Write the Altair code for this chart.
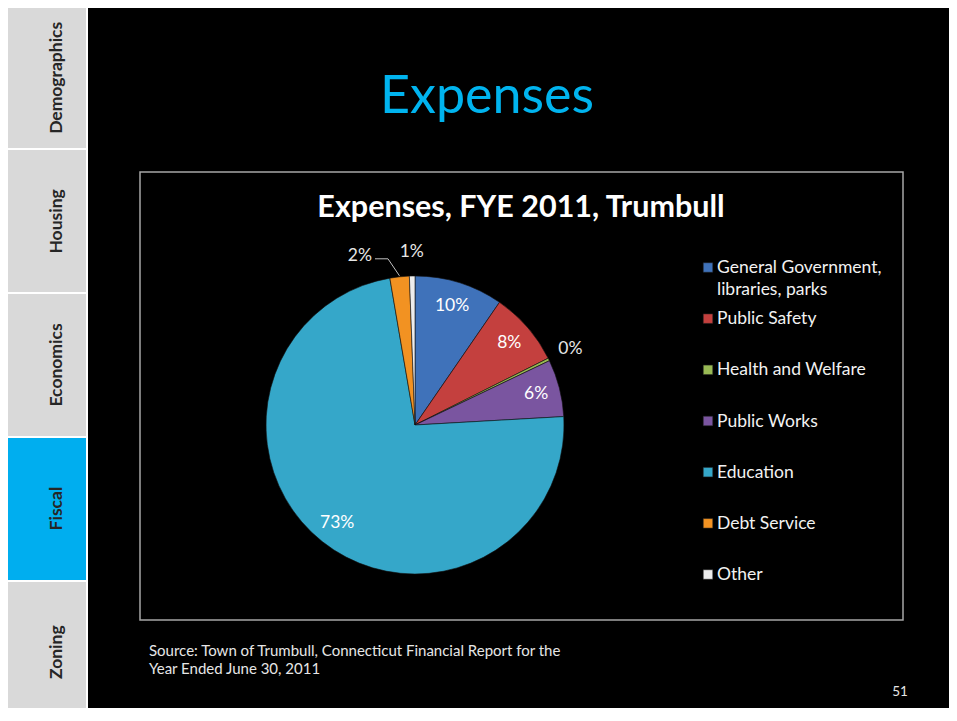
import altair as alt
import pandas as pd

# ---------------- data ----------------
categories = [
    "General Government, libraries, parks",
    "Public Safety",
    "Health and Welfare",
    "Public Works",
    "Education",
    "Debt Service",
    "Other",
]
values = [9.6, 8.0, 0.3, 6.2, 73.2, 2.1, 0.6]
slice_colors = ["#3F72BA", "#C4403E", "#98B954", "#7A55A0", "#35A7C9", "#F29222", "#EDEDED"]
leader_categories = ["Debt Service"]

tabs = ["Demographics", "Housing", "Economics", "Fiscal", "Zoning"]
active_tab = "Fiscal"

slide_title = "Expenses"
chart_title = "Expenses, FYE 2011, Trumbull"
source_text = "Source:  Town of Trumbull, Connecticut Financial Report for the\nYear Ended June 30, 2011"
page_number = "51"

# ---------------- layout constants ----------------
W, H = 941, 700
CX, CY, R = 407, 417, 149
R_IN, R_OUT = 125, 173
FONT = "Lato"

df = pd.DataFrame({"category": categories, "value": values, "idx": list(range(len(categories)))})
df_tabs = pd.DataFrame({"tab": tabs})
one = pd.DataFrame({"k": [0]})

# ---------------- sidebar ----------------
side_bg = alt.Chart(one).mark_rect(color="white").encode(
    x=alt.value(0), x2=alt.value(80), y=alt.value(0), y2=alt.value(H)
)
tab_scale = alt.Scale(domain=tabs, range=[-2, 716], paddingInner=0.014, paddingOuter=0)
tab_rects = alt.Chart(df_tabs).mark_rect(clip=True).encode(
    x=alt.value(0), x2=alt.value(78),
    y=alt.Y("tab:N", scale=tab_scale, axis=None),
    color=alt.condition(alt.datum.tab == active_tab, alt.value("#00AEEF"), alt.value("#D9D9D9")),
)
tab_text = alt.Chart(df_tabs).mark_text(
    angle=270, font=FONT, fontWeight="bold", fontSize=17.5, color="#262626", baseline="middle", align="center"
).encode(
    x=alt.value(49),
    y=alt.Y("tab:N", scale=tab_scale, axis=None),
    text="tab:N",
)

# ---------------- titles / box / texts ----------------
title = alt.Chart(one).mark_text(font=FONT, fontSize=52, color="#00B4EF", align="center", baseline="alphabetic").encode(
    x=alt.value(479), y=alt.value(105), text=alt.value(slide_title)
)
box = alt.Chart(one).mark_rect(fill="black", stroke="#A6A6A6", strokeWidth=1.5).encode(
    x=alt.value(132), x2=alt.value(895), y=alt.value(164), y2=alt.value(612)
)
ctitle = alt.Chart(one).mark_text(font=FONT, fontWeight="bold", fontSize=30.5, color="white", align="center", baseline="alphabetic").encode(
    x=alt.value(513), y=alt.value(209), text=alt.value(chart_title)
)
source = alt.Chart(one).mark_text(font=FONT, fontSize=15, color="#E6E6E6", align="left", baseline="alphabetic",
                                  lineBreak="\n", lineHeight=18).encode(
    x=alt.value(141), y=alt.value(648), text=alt.value(source_text)
)
pnum = alt.Chart(one).mark_text(font=FONT, fontSize=13.5, color="#E6E6E6", align="center", baseline="alphabetic").encode(
    x=alt.value(892), y=alt.value(688), text=alt.value(page_number)
)

# ---------------- pie ----------------
color_scale = alt.Scale(domain=categories, range=slice_colors)
arc = alt.Chart(df).mark_arc(radius=R, stroke="#111111", strokeWidth=0.6).encode(
    theta=alt.Theta("value:Q", stack=True),
    order=alt.Order("idx:Q"),
    color=alt.Color("category:N", scale=color_scale, legend=None),
    x=alt.value(CX), y=alt.value(CY),
)

lab_base = alt.Chart(df).transform_joinaggregate(
    total="sum(value)"
).transform_window(
    cum="sum(value)", sort=[alt.SortField("idx")], frame=[None, 0]
).transform_calculate(
    pct="datum.value / datum.total",
    mid="(datum.cum - datum.value / 2) / datum.total * 2 * PI",
)

leader_expr = "indexof(" + str(leader_categories) + ", datum.category) >= 0"

inside = lab_base.transform_filter("datum.pct >= 0.04").transform_calculate(
    lx=f"{CX} + {R_IN} * sin(datum.mid)", ly=f"{CY} - {R_IN} * cos(datum.mid)"
).mark_text(font=FONT, fontSize=17.5, color="white", align="center", baseline="middle").encode(
    x=alt.X("lx:Q", scale=None, axis=None), y=alt.Y("ly:Q", scale=None, axis=None),
    text=alt.Text("pct:Q", format=".0%"),
)
outside = lab_base.transform_filter("datum.pct < 0.04 && !(" + leader_expr + ")").transform_calculate(
    lx=f"{CX} + {R_OUT} * sin(datum.mid)", ly=f"{CY} - {R_OUT} * cos(datum.mid)"
).mark_text(font=FONT, fontSize=17.5, color="#E6E6E6", align="center", baseline="middle").encode(
    x=alt.X("lx:Q", scale=None, axis=None), y=alt.Y("ly:Q", scale=None, axis=None),
    text=alt.Text("pct:Q", format=".0%"),
)
lead = lab_base.transform_filter(leader_expr).transform_calculate(
    ex=f"{CX} + {R + 1} * sin(datum.mid)", ey=f"{CY} - {R + 1} * cos(datum.mid)"
).transform_calculate(
    kx="datum.ex - 11.5", ky="datum.ey - 17"
).transform_calculate(
    hx="datum.kx - 13", tx="datum.kx - 16", ty="datum.ky - 3"
)
lead1 = lead.mark_rule(color="#BFBFBF", strokeWidth=1).encode(
    x=alt.X("ex:Q", scale=None, axis=None), y=alt.Y("ey:Q", scale=None, axis=None),
    x2="kx:Q", y2="ky:Q",
)
lead2 = lead.mark_rule(color="#BFBFBF", strokeWidth=1).encode(
    x=alt.X("kx:Q", scale=None, axis=None), y=alt.Y("ky:Q", scale=None, axis=None),
    x2="hx:Q",
)
lead_text = lead.mark_text(font=FONT, fontSize=17.5, color="#E6E6E6", align="right", baseline="middle").encode(
    x=alt.X("tx:Q", scale=None, axis=None), y=alt.Y("ty:Q", scale=None, axis=None),
    text=alt.Text("pct:Q", format=".0%"),
)

# ---------------- legend ----------------
leg_y = alt.Scale(type="point", domain=categories, range=[265, 572], padding=0)
leg_sym = alt.Chart(df).mark_square(size=90, yOffset=-5.5, opacity=1, stroke="#222222", strokeWidth=0.5).encode(
    x=alt.value(700),
    y=alt.Y("category:N", scale=leg_y, axis=None),
    color=alt.Color("category:N", scale=color_scale, legend=None),
)
leg_txt = alt.Chart(df).transform_calculate(
    lab="replace(datum.category, 'Government, ', 'Government,\\n')"
).mark_text(font=FONT, fontSize=17.5, color="#F2F2F2", align="left", baseline="alphabetic",
            lineBreak="\n", lineHeight=22).encode(
    x=alt.value(709),
    y=alt.Y("category:N", scale=leg_y, axis=None),
    text="lab:N",
)

chart = alt.layer(
    side_bg, tab_rects, tab_text, title, box, ctitle, source, pnum,
    arc, inside, outside, lead1, lead2, lead_text, leg_sym, leg_txt,
).resolve_scale(
    x="independent", y="independent"
).properties(
    width=W, height=H, padding=0,
    autosize=alt.AutoSizeParams(type="fit", contains="padding"),
    background="black",
).configure_view(strokeWidth=0)

chart.save("out.html", embed_options={"renderer": "svg", "actions": False})
